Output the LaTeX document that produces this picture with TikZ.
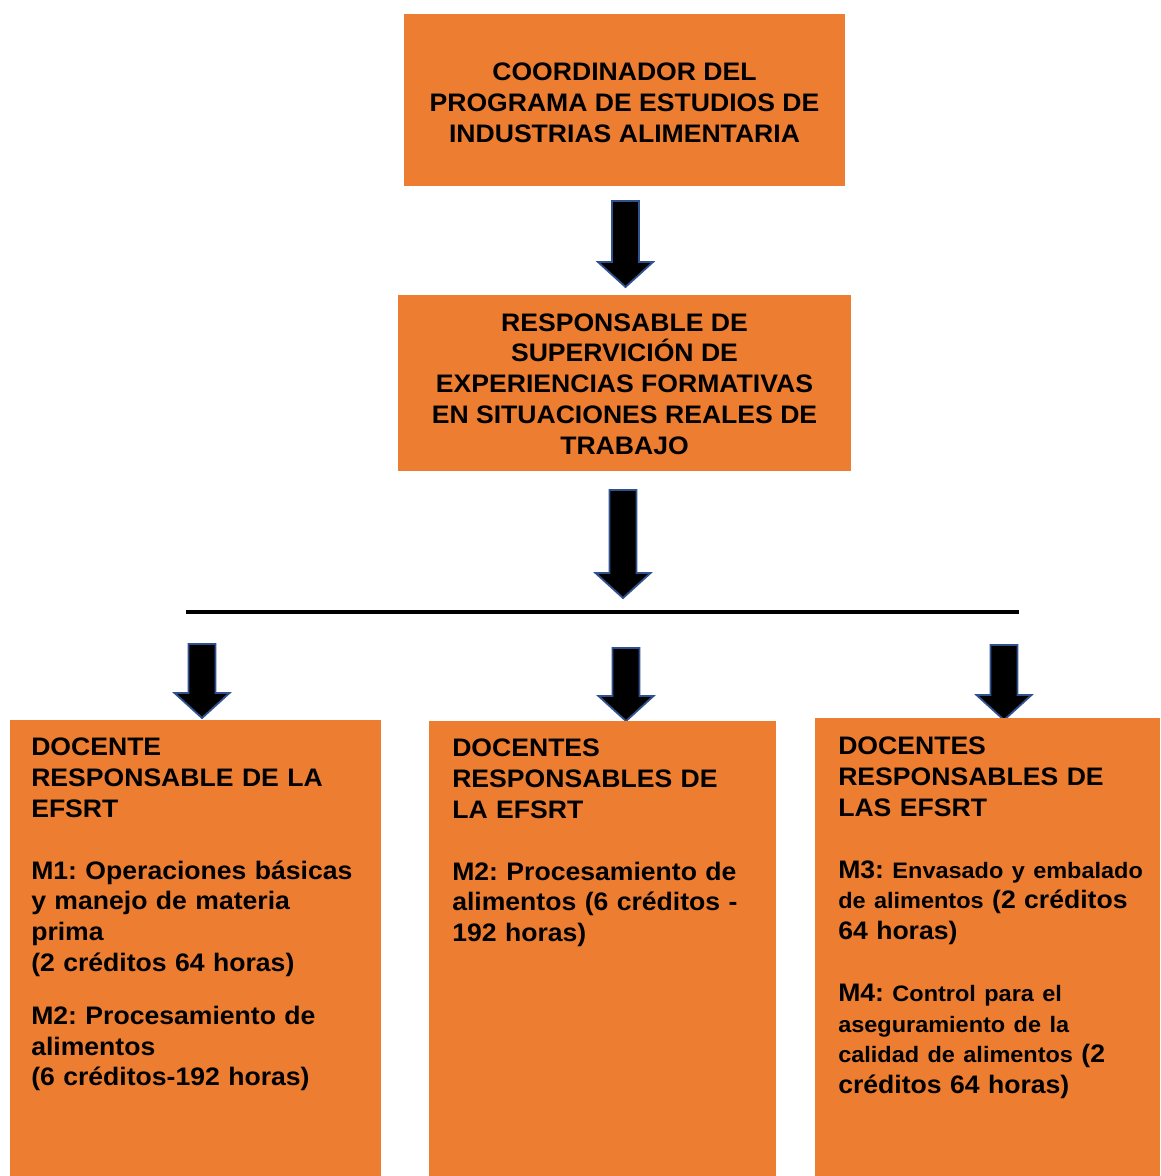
\documentclass[tikz,border=0pt]{standalone}
\usepackage{fontspec}
\setmainfont{Liberation Sans}[FakeStretch=1.05]
\definecolor{naranja}{HTML}{ED7D31}
\definecolor{bordeazul}{HTML}{2F528F}

% flecha de bloque: x, y de arriba, y de la punta
\newcommand{\flechabloque}[3]{%
  \draw[flecha] (#1-13.5,#2) -- (#1+13.5,#2) -- (#1+13.5,#3-25) -- (#1+27.5,#3-25)
    -- (#1,#3) -- (#1-27.5,#3-25) -- (#1-13.5,#3-25) -- cycle;}

\begin{document}
\frenchspacing
\begin{tikzpicture}
      [%%%%%%%%%%%%%%%%%%%%%%%%%%%%%%
      x=0.025cm, y=-0.025cm,
      caja/.style={rectangle, fill=naranja, inner sep=0pt},
      titulo/.style={inner sep=0pt, align=center,
        font=\fontsize{18}{21.9}\selectfont\bfseries},
      texto/.style={anchor=north west, inner sep=0pt, align=left,
        font=\fontsize{18}{21.9}\selectfont\bfseries},
      flecha/.style={fill=black, draw=bordeazul, line width=1.3pt, line join=miter},
      ]%%%%%%%%%%%%%%%%%%%%%%%%%%%%%%

      \useasboundingbox (0,0) rectangle (1160,1176);

      % cajas de arriba
      \node[caja, minimum width=441*0.025cm, minimum height=172*0.025cm] (coord) at (624.5,100) {};
      \node[titulo] (coordtexto) at ([yshift=-3*0.025cm]coord.center)
        {COORDINADOR DEL\\PROGRAMA DE ESTUDIOS DE\\INDUSTRIAS ALIMENTARIA};
      \node[caja, minimum width=453*0.025cm, minimum height=176*0.025cm] (resp) at (624.5,383) {};
      \node[titulo] (resptexto) at ([yshift=-1*0.025cm]resp.center)
        {RESPONSABLE DE\\SUPERVICIÓN DE\\EXPERIENCIAS FORMATIVAS\\EN SITUACIONES REALES DE\\TRABAJO};

      \flechabloque{625.5}{201}{287}
      \flechabloque{623}{490}{598}

      % linea horizontal
      \coordinate (lineaizq) at (186,612);
      \coordinate (lineader) at (1019,612);
      \draw[line width=3.5pt] (lineaizq) -- (lineader);

      \flechabloque{202}{644}{718}
      \flechabloque{626}{648}{721}
      \flechabloque{1004}{645}{720}

      % cajas de abajo
      \node[caja, anchor=north west, minimum width=371*0.025cm, minimum height=456*0.025cm] (doc1) at (10,720) {};
      \node[caja, anchor=north west, minimum width=347*0.025cm, minimum height=455*0.025cm] (doc2) at (429,721) {};
      \node[caja, anchor=north west, minimum width=345*0.025cm, minimum height=458*0.025cm] (doc3) at (815,718) {};

      \node[texto, text width=355*0.025cm] (texto1) at ([shift={(21,18)}]doc1.north west)
        {DOCENTE\\RESPONSABLE DE LA\\EFSRT\\[21.9pt]M1: Operaciones básicas\\y manejo de materia\\prima\\(2 créditos 64 horas)\\[15.6pt]M2: Procesamiento de\\alimentos\\(6 créditos-192 horas)};
      \node[texto, text width=330*0.025cm] (texto2) at ([shift={(23,18)}]doc2.north west)
        {DOCENTES\\RESPONSABLES DE\\LA EFSRT\\[21.9pt]M2: Procesamiento de\\alimentos (6 créditos -\\192 horas)};
      \node[texto, text width=335*0.025cm] (texto3) at ([shift={(23,19)}]doc3.north west)
        {DOCENTES\\RESPONSABLES DE\\LAS EFSRT\\[21.9pt]M3: \fontsize{15.9}{21.9}\selectfont Envasado y embalado\\de alimentos \fontsize{18}{21.9}\selectfont(2 créditos\\64 horas)\\[21.9pt]M4: \fontsize{15.9}{21.9}\selectfont Control para el\\aseguramiento de la\\calidad de alimentos \fontsize{18}{21.9}\selectfont(2\\créditos 64 horas)};
    \end{tikzpicture}
\end{document}
